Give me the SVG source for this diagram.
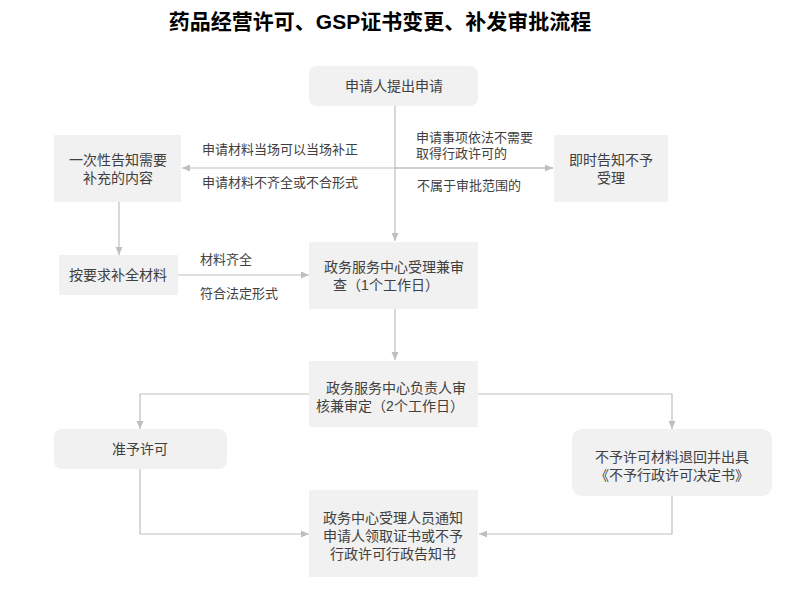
<svg xmlns="http://www.w3.org/2000/svg" width="808" height="608" viewBox="0 0 808 608">
<style>
.t{font-family:"Liberation Sans","Noto Sans CJK SC",sans-serif;font-size:14px;fill:#404040;text-anchor:middle}
.l{font-family:"Liberation Sans","Noto Sans CJK SC",sans-serif;font-size:13px;fill:#404040}
.n{fill:#f1f1f1;stroke:none}
.c{fill:none;stroke:#bfbfbf;stroke-width:1.2}
</style>
<defs>
<marker id="a" markerWidth="10" markerHeight="10" refX="9" refY="5" orient="auto" markerUnits="userSpaceOnUse">
<path d="M1,1.5 L9,5 L1,8.5 Z" fill="#bfbfbf"/>
</marker>
</defs>
<rect width="808" height="608" fill="#fff"/>
<text x="380" y="29" font-family="'Liberation Sans','Noto Sans CJK SC',sans-serif" font-size="21" font-weight="bold" fill="#000" text-anchor="middle">药品经营许可、GSP证书变更、补发审批流程</text>
<g id="connectors">
<line class="c" x1="395" y1="106" x2="395" y2="241" marker-end="url(#a)"/>
<line class="c" x1="553" y1="168" x2="182" y2="168" marker-end="url(#a)"/>
<line class="c" x1="395" y1="168" x2="553" y2="168" marker-end="url(#a)"/>
<line class="c" x1="119" y1="202" x2="119" y2="255" marker-end="url(#a)"/>
<line class="c" x1="178" y1="275" x2="309" y2="275" marker-end="url(#a)"/>
<line class="c" x1="395" y1="309" x2="395" y2="360" marker-end="url(#a)"/>
<polyline class="c" points="309,394 140,394 140,429" marker-end="url(#a)"/>
<polyline class="c" points="478,394 672,394 672,429" marker-end="url(#a)"/>
<polyline class="c" points="140,469 140,534 309,534" marker-end="url(#a)"/>
<polyline class="c" points="672,496 672,534 479,534" marker-end="url(#a)"/>
<text class="l" x="202" y="154">申请材料当场可以当场补正</text>
<text class="l" x="202" y="187">申请材料不齐全或不合形式</text>
<text class="l" x="416" y="142">申请事项依法不需要</text>
<text class="l" x="416" y="158">取得行政许可的</text>
<text class="l" x="417" y="190">不属于审批范围的</text>
<text class="l" x="200" y="264">材料齐全</text>
<text class="l" x="200" y="298">符合法定形式</text>
</g>
<g id="n1"><rect class="n" x="309" y="66" width="169" height="40" rx="8"/><text class="t" x="394" y="91">申请人提出申请</text></g>
<g id="n2"><rect class="n" x="54" y="135" width="127" height="67"/><text class="t" x="118" y="165">一次性告知需要</text><text class="t" x="118" y="183">补充的内容</text></g>
<g id="n3"><rect class="n" x="554" y="135" width="114" height="67"/><text class="t" x="611" y="165">即时告知不予</text><text class="t" x="611" y="183">受理</text></g>
<g id="n4"><rect class="n" x="59" y="255" width="119" height="40"/><text class="t" x="118" y="280">按要求补全材料</text></g>
<g id="n5"><rect class="n" x="309" y="242" width="169" height="67"/><text class="t" x="394" y="272">政务服务中心受理兼审</text><text class="t" x="386" y="290">查（1个工作日）</text></g>
<g id="n6"><rect class="n" x="309" y="361" width="169" height="66"/><text class="t" x="396" y="393">政务服务中心负责人审</text><text class="t" x="390" y="411">核兼审定（2个工作日）</text></g>
<g id="n7"><rect class="n" x="54" y="429" width="173" height="40" rx="8"/><text class="t" x="140" y="454">准予许可</text></g>
<g id="n8"><rect class="n" x="572" y="429" width="200" height="67" rx="10"/><text class="t" x="672" y="462">不予许可材料退回并出具</text><text class="t" x="672" y="480">《不予行政许可决定书》</text></g>
<g id="n9"><rect class="n" x="309" y="490" width="169" height="87"/><text class="t" x="393" y="523">政务中心受理人员通知</text><text class="t" x="393" y="541">申请人领取证书或不予</text><text class="t" x="393" y="559">行政许可行政告知书</text></g>
</svg>
